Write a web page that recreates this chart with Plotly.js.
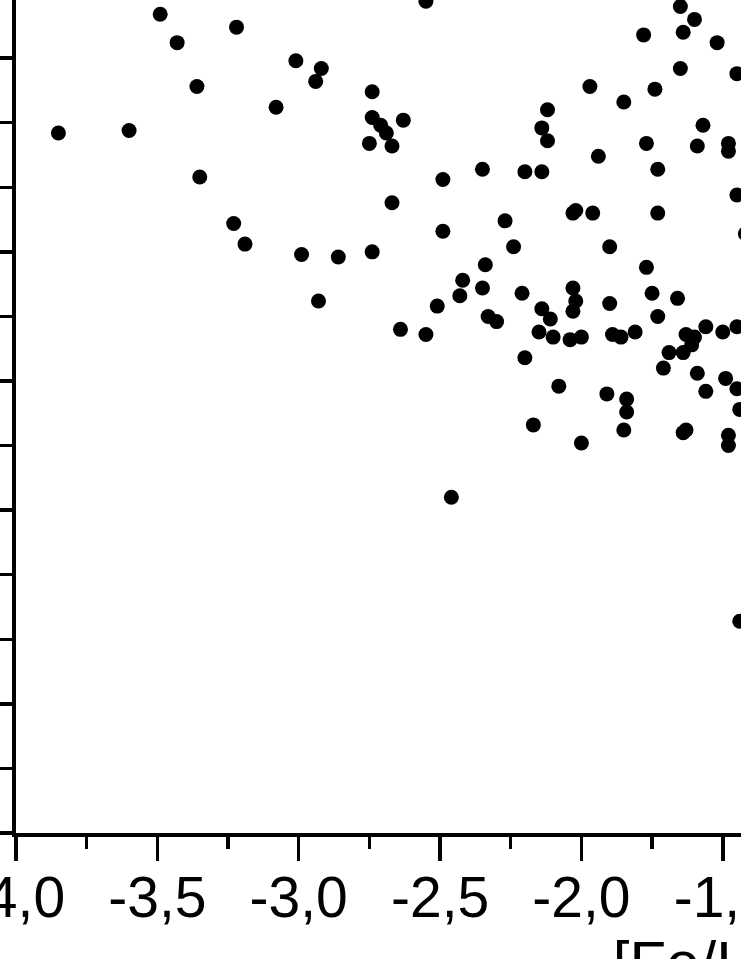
<!DOCTYPE html>
<html>
<head>
<meta charset="utf-8">
<script src="https://cdn.plot.ly/plotly-3.0.1.min.js"></script>
<style>
  html, body { margin: 0; padding: 0; width: 741px; height: 959px; overflow: hidden; background: #fff; }
  #chart { position: absolute; left: -184px; top: -91px; }
</style>
</head>
<body>
<div id="chart"></div>
<script>
// [Fe/H] of each star
var feH = [
  -3.49, -3.43, -3.22, -2.55, -3.36, -3.85, -3.60, -3.35, -3.23, -3.19,
  -3.08, -3.01, -2.92, -2.94, -2.99, -2.86, -2.93, -2.74, -2.74, -2.71,
  -2.69, -2.75, -2.67, -2.63, -2.67, -2.49, -2.74, -2.64, -2.55, -2.49,
  -2.46, -2.35, -2.20, -2.14, -2.12, -2.14, -2.12, -2.27, -2.24, -2.34,
  -2.42, -2.43, -2.35, -2.21, -2.51, -2.33, -2.30, -2.14, -2.11, -2.15,
  -2.10, -2.20, -2.08, -2.17, -1.65, -1.60, -1.64, -1.78, -1.52, -1.65,
  -1.45, -1.97, -1.74, -1.85, -1.57, -1.77, -1.59, -1.48, -1.48, -1.94,
  -1.73, -1.45, -2.02, -2.03, -1.96, -1.73, -1.42, -1.90, -1.77, -2.03,
  -2.02, -2.03, -2.04, -2.00, -1.90, -1.89, -1.86, -1.81, -1.75, -1.73,
  -1.66, -1.63, -1.60, -1.61, -1.56, -1.50, -1.45, -1.69, -1.64, -1.71,
  -1.59, -1.49, -1.45, -1.56, -1.44, -1.91, -1.84, -1.84, -1.85, -1.63,
  -1.64, -1.48, -1.48, -2.00, -1.44
];
// abundance ratio on the (cropped) vertical axis
var ratio = [
  2.17, 2.06, 2.12, 2.22, 1.89, 1.71, 1.72, 1.54, 1.36, 1.28,
  1.81, 1.99, 1.96, 1.91, 1.24, 1.23, 1.06, 1.87, 1.77, 1.74,
  1.71, 1.67, 1.66, 1.76, 1.44, 1.53, 1.25, 0.95, 0.93, 1.33,
  0.30, 1.57, 1.56, 1.56, 1.80, 1.73, 1.68, 1.37, 1.27, 1.20,
  1.14, 1.08, 1.11, 1.09, 1.04, 1.00, 0.98, 1.03, 0.99, 0.94,
  0.92, 0.84, 0.73, 0.58, 2.20, 2.15, 2.10, 2.09, 2.06, 1.96,
  1.94, 1.89, 1.88, 1.83, 1.74, 1.67, 1.66, 1.67, 1.64, 1.62,
  1.57, 1.47, 1.41, 1.40, 1.40, 1.40, 1.32, 1.27, 1.19, 1.11,
  1.06, 1.02, 0.91, 0.92, 1.05, 0.93, 0.92, 0.94, 1.09, 1.00,
  1.07, 0.93, 0.92, 0.89, 0.96, 0.94, 0.96, 0.86, 0.86, 0.80,
  0.78, 0.76, 0.72, 0.71, 0.64, 0.70, 0.68, 0.63, 0.56, 0.56,
  0.55, 0.54, 0.50, 0.51, -0.18
];

var xTickVals = [-4.0, -3.5, -3.0, -2.5, -2.0, -1.5, -1.0, -0.5, 0.0, 0.5];
var xTickText = ['-4,0', '-3,5', '-3,0', '-2,5', '-2,0', '-1,5', '-1,0', '-0,5', '0,0', '0,5'];
var yTickVals = [-1.0, -0.5, 0.0, 0.5, 1.0, 1.5, 2.0, 2.5];
var yTickText = ['-1,0', '-0,5', '0,0', '0,5', '1,0', '1,5', '2,0', '2,5'];

var stars = {
  x: feH,
  y: ratio,
  type: 'scatter',
  mode: 'markers',
  marker: {color: '#000', size: 15, line: {width: 0}},
  cliponaxis: false,
  showlegend: false
};

var tickFont = {family: 'Liberation Sans, Arial, sans-serif', size: 57, color: '#000'};

var layout = {
  width: 1577,
  height: 1174,
  margin: {l: 200, r: 20, t: 20, b: 250},
  paper_bgcolor: '#fff',
  plot_bgcolor: '#fff',
  showlegend: false,
  xaxis: {
    range: [-4.0, 0.8],
    tickmode: 'array',
    tickvals: xTickVals,
    ticktext: xTickText,
    ticks: 'outside',
    ticklen: 24,
    tickwidth: 3.5,
    tickcolor: '#000',
    ticklabelstandoff: -12,
    showline: true,
    linewidth: 4,
    linecolor: '#000',
    showgrid: false,
    zeroline: false,
    tickfont: tickFont,
    minor: {ticks: 'outside', dtick: 0.25, tick0: 0, ticklen: 12, tickwidth: 3.5, tickcolor: '#000'},
    title: {text: '[Fe/H]', font: {family: 'Liberation Sans, Arial, sans-serif', size: 60, color: '#000'}, standoff: 14}
  },
  yaxis: {
    range: [-1.0, 2.5],
    tickmode: 'array',
    tickvals: yTickVals,
    ticktext: yTickText,
    ticks: 'outside',
    ticklen: 24,
    tickwidth: 3.5,
    tickcolor: '#000',
    showline: true,
    linewidth: 4,
    linecolor: '#000',
    showgrid: false,
    zeroline: false,
    tickfont: tickFont,
    minor: {ticks: 'outside', dtick: 0.25, tick0: 0, ticklen: 12, tickwidth: 3.5, tickcolor: '#000'}
  }
};

Plotly.newPlot('chart', [stars], layout, {staticPlot: true});
</script>
</body>
</html>
